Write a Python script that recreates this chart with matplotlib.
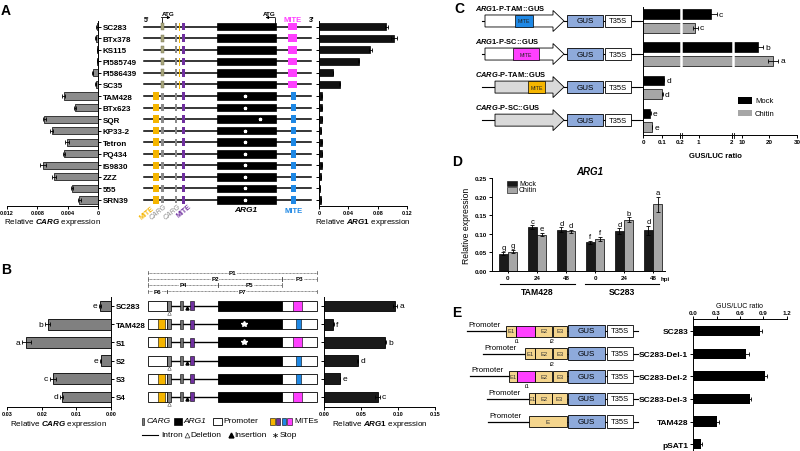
import numpy as np
import matplotlib

matplotlib.use('Agg')
import matplotlib.pyplot as plt
from matplotlib.patches import Rectangle, Polygon

plt.rcParams['font.family'] = ['Liberation Sans', 'DejaVu Sans']
plt.rcParams['font.weight'] = 'bold'
plt.rcParams['mathtext.fontset'] = 'custom'
plt.rcParams['mathtext.rm'] = 'Liberation Sans:bold'
plt.rcParams['mathtext.it'] = 'Liberation Sans:italic:bold'
plt.rcParams['mathtext.bf'] = 'Liberation Sans:bold'
plt.rcParams['axes.linewidth'] = 0.7
plt.rcParams['xtick.major.width'] = 0.7
plt.rcParams['ytick.major.width'] = 0.7
plt.rcParams['xtick.major.size'] = 2
plt.rcParams['ytick.major.size'] = 2
plt.rcParams['xtick.major.pad'] = 1
plt.rcParams['ytick.major.pad'] = 1.5

# ---------------- data ----------------
# panel A
a_lines = ['SC283', 'BTx378', 'KS115', 'PI585749', 'PI586439', 'SC35', 'TAM428',
           'BTx623', 'SQR', 'KP33-2', 'Tetron', 'PQ434', 'IS9830', 'ZZZ', '555', 'SRN39']
a_carg = [0.0001, 0.0003, 0.0001, 0.0001, 0.0007, 0.0003, 0.0045, 0.0030,
          0.0071, 0.0061, 0.0041, 0.0045, 0.0073, 0.0058, 0.0034, 0.0025]
a_carg_err = [0.0001, 0.0001, 0.00005, 0.00005, 0.0001, 0.0001, 0.0002, 0.0001,
              0.0002, 0.0002, 0.0003, 0.0001, 0.0004, 0.0003, 0.0001, 0.0002]
a_arg1 = [0.092, 0.102, 0.070, 0.054, 0.019, 0.028, 0.0035, 0.0035,
          0.004, 0.003, 0.0035, 0.004, 0.0035, 0.003, 0.0015, 0.003]
a_arg1_err = [0.002, 0.004, 0.002, 0.001, 0.0005, 0.0005, 0.0003, 0.0003,
              0.0003, 0.0003, 0.0003, 0.0003, 0.0003, 0.0003, 0.0002, 0.0003]
a_sc_type = [True] * 6 + [False] * 10
a_star_pos = [245] * 16
a_star_pos[8] = 260

# panel B
b_lines = ['SC283', 'TAM428', 'S1', 'S2', 'S3', 'S4']
b_carg = [0.0032, 0.0183, 0.0244, 0.0030, 0.0167, 0.0142]
b_carg_err = [0.0002, 0.0006, 0.0012, 0.0002, 0.0009, 0.0004]
b_carg_letters = ['e', 'b', 'a', 'e', 'c', 'd']
b_arg1 = [0.096, 0.0125, 0.083, 0.0455, 0.0215, 0.0725]
b_arg1_err = [0.003, 0.0005, 0.0012, 0.001, 0.0005, 0.003]
b_arg1_letters = ['a', 'f', 'b', 'd', 'e', 'c']
b_yellow = [False, True, True, False, True, True]
b_deletion = [True, False, False, True, False, True]
b_star = [False, True, True, False, False, False]
b_mite3 = ['magenta', 'blue', 'magenta', 'blue', 'blue', 'magenta']

# panel C
c_constructs = [r'$\mathit{ARG1}$-P-TAM::GUS', r'$\mathit{ARG1}$-P-SC::GUS',
                r'$\mathit{CARG}$-P-TAM::GUS', r'$\mathit{CARG}$-P-SC::GUS']
c_mock = [1.38, 15.9, 0.11, 0.04]
c_mock_err = [0.17, 1.8, 0.003, 0.002]
c_mock_letters = ['c', 'b', 'd', 'e']
c_chitin = [0.9, 21.4, 0.104, 0.048]
c_chitin_err = [0.08, 1.8, 0.003, 0.002]
c_chitin_letters = ['c', 'a', 'd', 'e']
c_ticks = [0, 0.1, 0.2, 1, 2, 10, 20, 30]
c_tick_labels = ['0', '0.1', '0.2', '1', '2', '10', '20', '30']

# panel D
d_times = ['0', '24', '48', '0', '24', '48']
d_mock = [0.047, 0.118, 0.111, 0.077, 0.107, 0.109]
d_mock_err = [0.004, 0.005, 0.006, 0.004, 0.008, 0.012]
d_mock_letters = ['g', 'c', 'd', 'f', 'd', 'd']
d_chitin = [0.052, 0.098, 0.107, 0.086, 0.138, 0.179]
d_chitin_err = [0.004, 0.005, 0.004, 0.006, 0.006, 0.020]
d_chitin_letters = ['g', 'e', 'd', 'f', 'b', 'a']

# panel E
e_names = ['SC283', 'SC283-Del-1', 'SC283-Del-2', 'SC283-Del-3', 'TAM428', 'pSAT1']
e_ratio = [0.86, 0.68, 0.92, 0.73, 0.30, 0.10]
e_err = [0.02, 0.03, 0.03, 0.015, 0.03, 0.01]

# ---------------- figure ----------------
W, H = 800, 452
fig = plt.figure(figsize=(8, 4.52), dpi=100)


def rect(x0, y0, x1, y1):
    return [x0 / W, 1 - y1 / H, (x1 - x0) / W, (y1 - y0) / H]


ov = fig.add_axes([0, 0, 1, 1], zorder=5)
ov.set_xlim(0, W)
ov.set_ylim(H, 0)
ov.axis('off')

ekw = dict(ecolor='black', elinewidth=0.6, capsize=1.5, capthick=0.6)

GRAY = '#8c8c8c'
YEL = '#f5b500'
PUR = '#7030a0'
MAG = '#ff40ff'
BLU = '#1e88e5'
OLV = '#a8a67c'
TAN = '#f4d58d'
GUSC = '#8eaadb'


def box(x0, x1, yc, h, fc, ec='black', lw=0.5, z=3):
    ov.add_patch(Rectangle((x0, yc - h / 2), x1 - x0, h, facecolor=fc,
                           edgecolor=ec, linewidth=lw, zorder=z))


def hline(x0, x1, y, lw=1.0, **kw):
    ov.plot([x0, x1], [y, y], color='black', lw=lw, zorder=2, **kw)


def ypx(ax, v):
    return H - ax.transData.transform((ax.get_xlim()[0], v))[1]


def clean(ax, keep):
    for s in ['left', 'right', 'top', 'bottom']:
        ax.spines[s].set_visible(s in keep)


# ===== panel A =====
ya = np.arange(len(a_lines))
ax_al = fig.add_axes(rect(7, 21.9, 98, 207), facecolor='none')
ax_al.barh(ya, a_carg, height=0.62, color=GRAY, edgecolor='black', linewidth=0.5,
           xerr=a_carg_err, error_kw=ekw)
ax_al.set_xlim(0.012, 0)
ax_al.set_ylim(15.52, -0.5)
clean(ax_al, ['right', 'bottom'])
ax_al.yaxis.tick_right()
ax_al.set_yticks(ya)
ax_al.set_yticklabels(a_lines, fontsize=5.8)
ax_al.set_xticks([0.012, 0.008, 0.004, 0])
ax_al.set_xticklabels(['0.012', '0.008', '0.004', '0'], fontsize=4)
ax_al.set_xlabel(r'Relative $\mathit{CARG}$ expression', fontsize=5.8, labelpad=0.5)

ax_ar = fig.add_axes(rect(319, 21.9, 407, 207), facecolor='none')
ax_ar.barh(ya, a_arg1, height=0.62, color='#111111', edgecolor='black', linewidth=0.5,
           xerr=a_arg1_err, error_kw=ekw)
ax_ar.set_xlim(0, 0.12)
ax_ar.set_ylim(15.52, -0.5)
clean(ax_ar, ['left', 'bottom'])
ax_ar.set_yticks(ya)
ax_ar.set_yticklabels([])
ax_ar.set_xticks([0, 0.04, 0.08, 0.12])
ax_ar.set_xticklabels(['0', '0.04', '0.08', '0.12'], fontsize=4)
ax_ar.set_xlabel(r'Relative $\mathit{ARG1}$ expression', fontsize=5.8, labelpad=0.5)

for i in range(len(a_lines)):
    y = ypx(ax_al, i)
    hline(144.3, 311, y, lw=1.1)
    if a_sc_type[i]:
        box(161, 164.3, y, 7, OLV, ec='#6f6d50', lw=0.3)
        ov.plot([179, 179], [y - 3.5, y + 3.5], color=YEL, lw=0.7, zorder=3)
        box(288.3, 296.7, y, 7.5, MAG, ec='none')
    else:
        box(152.7, 159.3, y, 7.5, YEL, ec='none')
        box(161, 164.3, y, 7, '#8a8a8a', ec='none')
        ov.plot(a_star_pos[i], y, marker='*', color='white', ms=2.3, zorder=4)
        box(291, 296.3, y, 7.5, BLU, ec='none')
    box(174.7, 177.3, y, 7, '#8a8a8a', ec='none')
    box(182, 185.3, y, 7.5, PUR, ec='none')
    box(216.7, 276, y, 7.5, 'black', ec='black')

ov.text(146.7, 20, "5'", fontsize=5, ha='center', va='center')
ov.text(311.7, 20, "3'", fontsize=5, ha='center', va='center')
ov.text(293, 20, 'MITE', fontsize=5.5, color=MAG, ha='center', va='center')
ov.text(168, 14.5, 'ATG', fontsize=4.5, ha='center', va='center')
ov.text(269, 14.5, 'ATG', fontsize=4.5, ha='center', va='center')
ov.plot([161.7, 161.7], [24, 18.5], color='black', lw=0.6)
ov.annotate('', xy=(170.5, 18.5), xytext=(161.4, 18.5),
            arrowprops=dict(arrowstyle='-|>', lw=0.6, color='black',
                            mutation_scale=4, shrinkA=0, shrinkB=0))
ov.plot([275, 275], [24, 18.5], color='black', lw=0.6)
ov.annotate('', xy=(265.5, 18.5), xytext=(275.3, 18.5),
            arrowprops=dict(arrowstyle='-|>', lw=0.6, color='black',
                            mutation_scale=4, shrinkA=0, shrinkB=0))
ov.text(146.5, 213.5, 'MITE', fontsize=5, color=YEL, rotation=40, ha='center', va='center')
ov.text(158, 212.5, 'CARG', fontsize=5, color='#8a8a8a', rotation=40, ha='center',
        va='center', style='italic', fontweight='normal')
ov.text(172, 212.5, 'CARG', fontsize=5, color='#8a8a8a', rotation=40, ha='center',
        va='center', style='italic', fontweight='normal')
ov.text(184, 211.5, 'MITE', fontsize=5, color=PUR, rotation=40, ha='center', va='center')
ov.text(246, 211, 'ARG1', fontsize=6, style='italic', ha='center', va='center')
ov.text(293.5, 211.5, 'MITE', fontsize=5.5, color=BLU, ha='center', va='center')
ov.text(1, 11, 'A', fontsize=10, ha='left', va='center')

# ===== panel B =====
yb = np.arange(len(b_lines))
ax_bl = fig.add_axes(rect(7, 297.9, 111, 408), facecolor='none')
ax_bl.barh(yb, b_carg, height=0.6, color='#808080', edgecolor='black', linewidth=0.6,
           xerr=b_carg_err, error_kw=ekw)
ax_bl.set_xlim(0.03, 0)
ax_bl.set_ylim(5.55, -0.5)
clean(ax_bl, ['right', 'bottom'])
ax_bl.yaxis.tick_right()
ax_bl.set_yticks(yb)
ax_bl.set_yticklabels(b_lines, fontsize=5.8)
ax_bl.set_xticks([0.03, 0.02, 0.01, 0.0])
ax_bl.set_xticklabels(['0.03', '0.02', '0.01', '0.00'], fontsize=4)
ax_bl.set_xlabel(r'Relative $\mathit{CARG}$ expression', fontsize=5.8, labelpad=1)
for k in yb:
    ax_bl.annotate(b_carg_letters[k], xy=(b_carg[k] + b_carg_err[k], k), xytext=(-1.5, 0),
                   textcoords='offset points', ha='right', va='center', fontsize=6,
                   fontweight='normal')

ax_br = fig.add_axes(rect(324, 297.9, 435, 408), facecolor='none')
ax_br.barh(yb, b_arg1, height=0.6, color='#1a1a1a', edgecolor='black', linewidth=0.6,
           xerr=b_arg1_err, error_kw=ekw)
ax_br.set_xlim(0, 0.15)
ax_br.set_ylim(5.55, -0.5)
clean(ax_br, ['left', 'bottom'])
ax_br.set_yticks(yb)
ax_br.set_yticklabels([])
ax_br.set_xticks([0, 0.05, 0.10, 0.15])
ax_br.set_xticklabels(['0.00', '0.05', '0.10', '0.15'], fontsize=4)
ax_br.set_xlabel(r'Relative $\mathit{ARG1}$ expression', fontsize=5.8, labelpad=1)
for k in yb:
    ax_br.annotate(b_arg1_letters[k], xy=(b_arg1[k] + b_arg1_err[k], k), xytext=(1.5, 0),
                   textcoords='offset points', ha='left', va='center', fontsize=6,
                   fontweight='normal')

for j in range(len(b_lines)):
    y = ypx(ax_bl, j)
    hline(170.7, 218, y, lw=1.0)
    box(148.3, 166.7, y, 10, 'white', lw=0.6)
    if b_yellow[j]:
        box(158.3, 165, y, 10, YEL, lw=0.4)
    box(166.7, 170.7, y, 10, '#808080', lw=0.5)
    box(180, 183.3, y, 9, '#707070', lw=0.4)
    box(190, 193.5, y, 9, PUR, lw=0.4)
    if b_deletion[j]:
        ov.plot(169, y + 7, marker='^', ms=2.6, mfc='white', mec='#555555', mew=0.4, zorder=4)
        ov.plot(186.5, y + 2, marker='^', ms=2.2, color='black', zorder=4)
    box(217.7, 281.7, y, 10, 'black', lw=0.6)
    box(281.7, 317.3, y, 10, 'white', lw=0.6)
    if b_mite3[j] == 'magenta':
        box(293.3, 301.7, y, 10, MAG, lw=0.4)
    else:
        box(296, 300.7, y, 10, BLU, lw=0.4)
    if b_star[j]:
        ov.plot(244, y, marker='*', color='white', ms=4, zorder=4)

b_spans = [('P1', 148.3, 317.3, 273.5), ('P2', 148.3, 281.7, 279.8), ('P3', 281.7, 317.3, 279.8),
           ('P4', 148.3, 217.7, 286), ('P5', 217.7, 281.7, 286),
           ('P6', 148.3, 166.7, 292.3), ('P7', 166.7, 317.3, 292.3)]
for name, x0, x1, y in b_spans:
    ov.plot([x0, x1], [y, y], color='#444444', lw=0.5, ls=(0, (1.2, 0.8)), zorder=2)
    ov.plot([x0, x0], [y - 1.8, y + 1.8], color='#444444', lw=0.5)
    ov.plot([x1, x1], [y - 1.8, y + 1.8], color='#444444', lw=0.5)
    ov.text((x0 + x1) / 2, y, name, fontsize=4.5, ha='center', va='center', zorder=4,
            bbox=dict(facecolor='white', edgecolor='none', pad=0.2))

# B legend
ly1, ly2 = 422, 435.5
box(141.7, 144.3, ly1, 7, '#808080', lw=0.4)
ov.text(146.5, ly1, 'CARG', fontsize=6, style='italic', fontweight='normal', va='center')
box(174, 181.7, ly1, 7, 'black')
ov.text(183, ly1, 'ARG1', fontsize=6, style='italic', fontweight='normal', va='center')
box(212.7, 221.7, ly1, 7, 'white', lw=0.6)
ov.text(223.3, ly1, 'Promoter', fontsize=6, fontweight='normal', va='center')
for n, c in enumerate([YEL, PUR, BLU, MAG]):
    box(270 + n * 5.8, 274.6 + n * 5.8, ly1, 7, c, lw=0.4)
ov.text(294.5, ly1, 'MITEs', fontsize=6, fontweight='normal', va='center')
hline(141.7, 158.3, ly2, lw=0.8)
ov.text(161, ly2, 'Intron', fontsize=6, fontweight='normal', va='center')
ov.plot(186.5, ly2, marker='^', ms=3.5, mfc='white', mec='#333333', mew=0.5)
ov.text(190.5, ly2, 'Deletion', fontsize=6, fontweight='normal', va='center')
ov.plot(230.5, ly2, marker='^', ms=3.5, color='black')
ov.text(234.5, ly2, 'Insertion', fontsize=6, fontweight='normal', va='center')
ov.text(275, ly2 + 1, '∗', fontsize=6, fontweight='normal', va='center', ha='center')
ov.text(279.5, ly2, 'Stop', fontsize=6, fontweight='normal', va='center')
ov.text(1, 270, 'B', fontsize=10, ha='left', va='center')

# ===== panel C =====
c_xp = [0, 0.2, 0.5, 2, 7, 30]
c_fp = [0, 112, 117, 267, 272, 462]


def c_fwd(x):
    return np.interp(x, c_xp, c_fp)


def c_inv(x):
    return np.interp(x, c_fp, c_xp)


yc = np.arange(len(c_constructs))
ax_c = fig.add_axes(rect(643, 8.1, 797, 136), facecolor='none')
ax_c.set_xscale('function', functions=(c_fwd, c_inv))
ax_c.barh(yc - 0.21, c_mock, height=0.28, color='black', edgecolor='black', linewidth=0.5,
          xerr=c_mock_err, error_kw=ekw)
ax_c.barh(yc + 0.21, c_chitin, height=0.28, color='#a6a6a6', edgecolor='black', linewidth=0.5,
          xerr=c_chitin_err, error_kw=ekw)
ax_c.set_xlim(0, 30)
ax_c.set_ylim(3.45, -0.42)
clean(ax_c, ['left', 'bottom'])
ax_c.set_yticks(yc)
ax_c.set_yticklabels([])
ax_c.tick_params(axis='y', length=4)
ax_c.set_xticks(c_ticks)
ax_c.set_xticklabels(c_tick_labels, fontsize=4.5)
for k in yc:
    ax_c.annotate(c_mock_letters[k], xy=(c_mock[k] + c_mock_err[k], k - 0.21), xytext=(1.5, 0),
                  textcoords='offset points', ha='left', va='center', fontsize=6,
                  fontweight='normal')
    ax_c.annotate(c_chitin_letters[k], xy=(c_chitin[k] + c_chitin_err[k], k + 0.21),
                  xytext=(1.5, 0), textcoords='offset points', ha='left', va='center',
                  fontsize=6, fontweight='normal')
for xb in (0.35, 4.5):
    ax_c.axvline(xb, color='white', lw=1.8, zorder=3)
    xpix = ax_c.transData.transform((xb, 0))[0]
    for dx in (-1.1, 1.1):
        ov.plot([xpix + dx, xpix + dx], [133.5, 138.5], color='black', lw=0.6)
ov.text(715, 157, 'GUS/LUC ratio', fontsize=5.5, ha='center', va='center')

# C legend
box(738, 752, 101.5, 6.5, 'black', lw=0)
ov.text(755, 101.5, 'Mock', fontsize=5.5, fontweight='normal', va='center')
box(738, 752, 114, 6.5, '#a6a6a6', lw=0)
ov.text(755, 114, 'Chitin', fontsize=5.5, fontweight='normal', va='center')

c_arrow_fill = ['white', 'white', '#d9d9d9', '#d9d9d9']
c_arrow_start = [485, 485, 495, 495]
c_mite = [(515, 533, BLU), (513, 539, MAG), (528, 545, YEL), None]
for k in range(len(c_constructs)):
    y = ypx(ax_c, k)
    ov.text(475, y - 13.2, c_constructs[k], fontsize=5.4, ha='left', va='center')
    x0 = c_arrow_start[k]
    hline(482, x0, y, lw=0.8)
    ov.add_patch(Polygon([(x0, y - 6), (553, y - 6), (553, y - 10.5), (564, y),
                          (553, y + 10.5), (553, y + 6), (x0, y + 6)], closed=True,
                         facecolor=c_arrow_fill[k], edgecolor='black', linewidth=0.6, zorder=3))
    if c_mite[k] is not None:
        m0, m1, mc = c_mite[k]
        box(m0, m1, y, 12, mc, lw=0.5)
        ov.text((m0 + m1) / 2, y, 'MITE', fontsize=3.8, fontweight='normal', ha='center',
                va='center', zorder=4, color='#222222')
    hline(564, 567, y, lw=0.8)
    box(567, 603, y, 12.5, GUSC, lw=0.6)
    ov.text(585, y, 'GUS', fontsize=5.8, fontweight='normal', ha='center', va='center', zorder=4)
    hline(603, 605, y, lw=0.8)
    box(605, 631, y, 12.5, 'white', lw=0.6)
    ov.text(618, y, 'T35S', fontsize=5.5, fontweight='normal', ha='center', va='center', zorder=4)
    hline(631, 640, y, lw=0.8)
ov.text(454, 9, 'C', fontsize=10, ha='left', va='center')

# ===== panel D =====
xd = np.arange(len(d_times))
ax_d = fig.add_axes(rect(492, 179, 665, 272), facecolor='none')
ax_d.bar(xd - 0.16, d_mock, 0.3, color='#1a1a1a', edgecolor='black', linewidth=0.5,
         yerr=d_mock_err, error_kw=ekw)
ax_d.bar(xd + 0.16, d_chitin, 0.3, color='#a6a6a6', edgecolor='black', linewidth=0.5,
         yerr=d_chitin_err, error_kw=ekw)
ax_d.set_xlim(-0.55, 5.41)
ax_d.set_ylim(0, 0.25)
clean(ax_d, ['left', 'bottom'])
ax_d.set_yticks([0, 0.05, 0.10, 0.15, 0.20, 0.25])
ax_d.set_yticklabels(['0.00', '0.05', '0.10', '0.15', '0.20', '0.25'], fontsize=4.5)
ax_d.set_xticks(xd)
ax_d.set_xticklabels(d_times, fontsize=4.5)
ax_d.tick_params(axis='x', length=1.5, pad=1.5)
ax_d.set_ylabel('Relative expression', fontsize=6.2, labelpad=3)
ax_d.annotate('hpi', xy=(5, 0), xycoords=('data', 'axes fraction'), xytext=(5.5, -3.5),
              textcoords='offset points', ha='left', va='top', fontsize=4.5)
for k in xd:
    ax_d.annotate(d_mock_letters[k], xy=(k - 0.16, d_mock[k] + d_mock_err[k]), xytext=(0, 0.5),
                  textcoords='offset points', ha='center', va='bottom', fontsize=5.5,
                  fontweight='normal')
    ax_d.annotate(d_chitin_letters[k], xy=(k + 0.16, d_chitin[k] + d_chitin_err[k]),
                  xytext=(0, 0.5), textcoords='offset points', ha='center', va='bottom',
                  fontsize=5.5, fontweight='normal')
ov.text(590, 172, 'ARG1', fontsize=7, style='italic', ha='center', va='center')
hline(500, 575, 285, lw=0.8)
ov.text(537.5, 292.5, 'TAM428', fontsize=6.2, ha='center', va='center')
hline(585, 659, 285, lw=0.8)
ov.text(622, 292.5, 'SC283', fontsize=6.2, ha='center', va='center')
box(507, 517, 184.5, 5.5, '#1a1a1a', lw=0.4)
ov.text(519, 184.5, 'Mock', fontsize=5, fontweight='normal', va='center')
box(507, 517, 191, 5.5, '#a6a6a6', lw=0.4)
ov.text(519, 191, 'Chitin', fontsize=5, fontweight='normal', va='center')
ov.text(452, 162, 'D', fontsize=10, ha='left', va='center')

# ===== panel E =====
ye = np.arange(len(e_names))
ax_e = fig.add_axes(rect(693, 320, 787, 452), facecolor='none')
ax_e.barh(ye, e_ratio, height=0.45, color='black', xerr=e_err, error_kw=ekw)
ax_e.set_xlim(0, 1.2)
ax_e.set_ylim(5.3, -0.53)
clean(ax_e, ['left', 'top'])
ax_e.xaxis.tick_top()
ax_e.xaxis.set_label_position('top')
ax_e.set_xticks([0, 0.3, 0.6, 0.9, 1.2])
ax_e.set_xticklabels(['0.0', '0.3', '0.6', '0.9', '1.2'], fontsize=4.5)
ax_e.set_xlabel('GUS/LUC ratio', fontsize=5, labelpad=2)
ax_e.set_yticks(ye)
ax_e.set_yticklabels(e_names, fontsize=6)

# exon layouts per construct: (x0, x1, colour, label)
e_layout = [
    [(506, 515.7, TAN, 'E1'), (515.7, 535, MAG, ''), (535, 552.3, TAN, 'E2'),
     (553.3, 566.7, TAN, 'E3')],
    [(525, 535, TAN, 'E1'), (535, 552.3, TAN, 'E2'), (553.3, 566.7, TAN, 'E3')],
    [(508.7, 516.7, TAN, 'E1'), (516.7, 535, MAG, ''), (535, 552.3, TAN, 'E2'),
     (553.3, 566.7, TAN, 'E3')],
    [(529, 535, TAN, 'E1'), (535, 552.3, TAN, 'E2'), (552.3, 566.7, TAN, 'E3')],
    [(529, 566.7, TAN, 'E')],
]
e_prom_start = [466.7, 483, 470, 486.7, 488]
e_introns = [[('i1', 517), ('i2', 552.5)], [('i2', 552.5)], [('i1', 527)], [], []]
for r in range(len(e_layout)):
    y = ypx(ax_e, r)
    x_first = e_layout[r][0][0]
    hline(e_prom_start[r], x_first, y, lw=0.9)
    ov.text(e_prom_start[r] + 1.5, y - 3, 'Promoter', fontsize=5.6, fontweight='normal',
            ha='left', va='bottom')
    for x0, x1, c, lab in e_layout[r]:
        box(x0, x1, y, 11, c, lw=0.6)
        if lab:
            ov.text((x0 + x1) / 2, y, lab, fontsize=4.2 if lab != 'E' else 4.6,
                    fontweight='normal', ha='center', va='center', zorder=4, color='#333333')
    for lab, xi in e_introns[r]:
        ov.text(xi, y + 9.5, lab, fontsize=4.5, fontweight='normal', ha='center', va='center')
    hline(566.7, 568.3, y, lw=0.8)
    box(568.3, 605, y, 12.5, GUSC, lw=0.6)
    ov.text(586.5, y, 'GUS', fontsize=5.8, fontweight='normal', ha='center', va='center', zorder=4)
    hline(605, 606.7, y, lw=0.8)
    box(606.7, 633.3, y, 12.5, 'white', lw=0.6)
    ov.text(620, y, 'T35S', fontsize=5.5, fontweight='normal', ha='center', va='center', zorder=4)
    hline(633.3, 637.5, y, lw=0.8)
ov.text(452, 313, 'E', fontsize=10, ha='left', va='center')

fig.savefig('out.png', dpi=100)
